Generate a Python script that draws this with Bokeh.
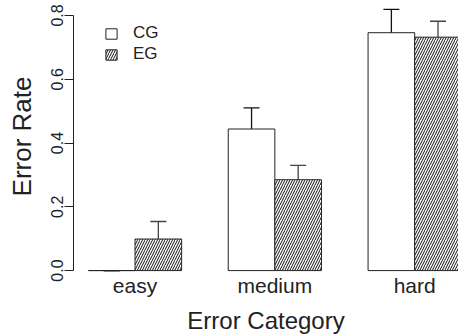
from bokeh.plotting import figure
from bokeh.models import (ColumnDataSource, Range1d, FixedTicker, Whisker, TeeHead,
                          Legend, LegendItem)
from bokeh.embed import file_html
from bokeh.resources import INLINE

# ---- data ----
categories = ["easy", "medium", "hard"]
groups = ["CG", "EG"]
cg_rate = [0.0, 0.444, 0.746]
eg_rate = [0.099, 0.285, 0.732]
cg_lower = [0.0, 0.375, 0.673]
cg_upper = [0.0, 0.510, 0.819]
eg_lower = [0.043, 0.242, 0.682]
eg_upper = [0.154, 0.330, 0.782]
y_ticks = [0.0, 0.2, 0.4, 0.6, 0.8]
y_tick_labels = ["0.0", "0.2", "0.4", "0.6", "0.8"]
x_title = "Error Category"
y_title = "Error Rate"

FONT = "Liberation Sans"
INK = "#222222"

# positions like R barplot(beside=TRUE): bar width 1, gap 1 between groups
centers = [2 + 3 * i for i in range(len(categories))]
cg_x = [c - 0.5 for c in centers]
eg_x = [c + 0.5 for c in centers]

src_cg = ColumnDataSource(dict(x=cg_x, top=cg_rate, lo=cg_lower, hi=cg_upper))
src_eg = ColumnDataSource(dict(x=eg_x, top=eg_rate, lo=eg_lower, hi=eg_upper))

p = figure(width=458, height=336, output_backend="svg", toolbar_location=None,
           x_range=Range1d(0.68, 8.94), y_range=Range1d(-0.006, 0.847),
           min_border_left=73, min_border_right=0, min_border_top=0,
           min_border_bottom=63)
p.outline_line_color = None
p.xgrid.visible = False
p.ygrid.visible = False
p.background_fill_color = "white"
p.border_fill_color = "white"

r_cg = p.vbar(x="x", top="top", bottom=0, width=1, source=src_cg,
              fill_color="white", line_color=INK, line_width=1)
r_eg = p.vbar(x="x", top="top", bottom=0, width=1, source=src_eg,
              fill_color="white", line_color=INK, line_width=1,
              hatch_pattern="/", hatch_color="#111111", hatch_scale=5,
              hatch_weight=1)

for src, col in ((src_cg, "#111111"), (src_eg, "#444444")):
    w = Whisker(base="x", lower="lo", upper="hi", source=src,
                line_color=col, line_width=1.3,
                upper_head=TeeHead(size=16, line_color=col, line_width=1.3),
                lower_head=TeeHead(size=16, line_color=col, line_width=1.3))
    p.add_layout(w)

# y axis (R style)
ya = p.yaxis[0]
ya.bounds = (0, 0.8)
ya.ticker = FixedTicker(ticks=y_ticks)
ya.major_label_overrides = {t: s for t, s in zip(y_ticks, y_tick_labels)}
ya.major_label_orientation = "vertical"
ya.major_tick_out = 9
ya.major_tick_in = 0
ya.minor_tick_out = 0
ya.minor_tick_in = 0
ya.major_label_standoff = 1
ya.major_label_text_font = FONT
ya.major_label_text_font_size = "16px"
ya.major_label_text_color = INK
ya.axis_line_color = INK
ya.major_tick_line_color = INK
ya.axis_label = y_title
ya.axis_label_text_font = FONT
ya.axis_label_text_font_size = "26px"
ya.axis_label_text_font_style = "normal"
ya.axis_label_text_color = INK
ya.axis_label_standoff = 12

# x axis: category names only
xa = p.xaxis[0]
xa.ticker = FixedTicker(ticks=centers)
xa.major_label_overrides = {c: n for c, n in zip(centers, categories)}
xa.axis_line_color = None
xa.major_tick_line_color = None
xa.minor_tick_line_color = None
xa.major_tick_out = 0
xa.major_tick_in = 0
xa.major_label_standoff = 1
xa.major_label_text_font = FONT
xa.major_label_text_font_size = "21px"
xa.major_label_text_color = INK
xa.axis_label = x_title
xa.axis_label_text_font = FONT
xa.axis_label_text_font_size = "24px"
xa.axis_label_text_font_style = "normal"
xa.axis_label_text_color = INK
xa.axis_label_standoff = 7

legend = Legend(items=[LegendItem(label=groups[0], renderers=[r_cg]),
                       LegendItem(label=groups[1], renderers=[r_eg])],
                location=(31, 208), orientation="vertical",
                glyph_width=14, glyph_height=13, label_height=20,
                label_standoff=15, spacing=1, padding=0, margin=0,
                label_text_font=FONT, label_text_font_size="17px",
                label_text_color=INK,
                border_line_color=None, background_fill_alpha=0)
p.add_layout(legend)

open("out.html", "w").write(file_html(p, INLINE))
